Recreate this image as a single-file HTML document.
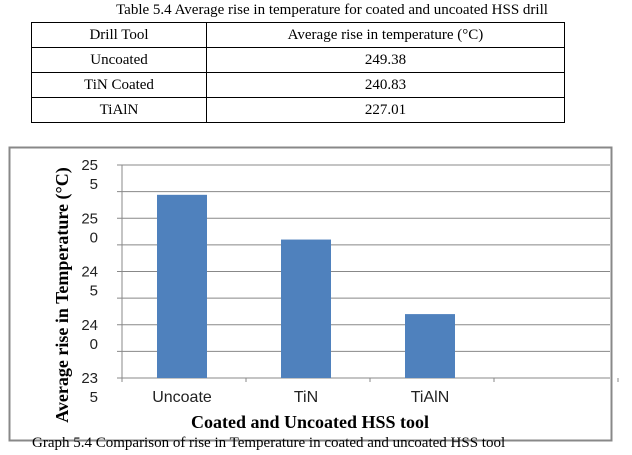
<!DOCTYPE html>
<html><head><meta charset="utf-8"><style>
body{margin:0;width:632px;height:455px;background:#fff;overflow:hidden;position:relative;font-family:"Liberation Serif",serif}
.t{position:absolute;white-space:nowrap}
table{position:absolute;left:31px;top:22px;width:534px;border-collapse:collapse;font-size:15px}
td{border:1px solid #000;text-align:center;height:24px;padding:0}
</style></head><body>
<div class="t" style="left:0;width:664px;text-align:center;top:2px;font-size:15px">Table 5.4 Average rise in temperature for coated and uncoated HSS drill</div>
<table>
<tr><td style="width:174px">Drill Tool</td><td>Average rise in temperature (°C)</td></tr>
<tr><td>Uncoated</td><td>249.38</td></tr>
<tr><td>TiN Coated</td><td>240.83</td></tr>
<tr><td>TiAlN</td><td>227.01</td></tr>
</table>
<svg width="632" height="455" style="position:absolute;left:0;top:0">
<rect x="9.5" y="147.5" width="602" height="293" fill="none" stroke="#888" stroke-width="2"/>
<g id="g"></g>
<text x="310" y="428" text-anchor="middle" font-family="Liberation Serif" font-weight="bold" font-size="18">Coated and Uncoated HSS tool</text>
<text transform="translate(68,295) rotate(-90)" text-anchor="middle" font-family="Liberation Serif" font-weight="bold" font-size="18">Average rise in Temperature (°C)</text>
</svg>
<div class="t" style="left:32px;top:435px;font-size:15px">Graph 5.4 Comparison of rise in Temperature in coated and uncoated HSS tool</div>
<script>
const categories=["Uncoate","TiN","TiAlN",""];
const values=[252.2,248.0,241.0,null];
const tickValues=[235,237.5,240,242.5,245,247.5,250,252.5,255];
const tickLabels=["23\n5","","24\n0","","24\n5","","25\n0","","25\n5"];
const NS="http://www.w3.org/2000/svg",g=document.getElementById('g');
const x0=122,cw=124,yMin=235,yMax=255,yTop=165,yBot=378;
const y=v=>yBot-(v-yMin)/(yMax-yMin)*(yBot-yTop);
function mk(t,a){const e=document.createElementNS(NS,t);for(const k in a)e.setAttribute(k,a[k]);g.appendChild(e);return e;}
tickValues.forEach((v,i)=>{
 const l=mk('line',{x1:x0-5,x2:610,y1:y(v),y2:y(v),stroke:'#888','stroke-width':1});
 
 
 if(tickLabels[i]){const p=tickLabels[i].split("\n");
  p.forEach((s,j)=>{const t=mk('text',{x:98,y:y(v)+5+j*19,'text-anchor':'end','font-family':'Liberation Sans','font-size':15,fill:'#222'});
  t.textContent=s;
  
  });}
});
const ax=mk('line',{x1:x0,x2:x0,y1:yTop,y2:yBot+4,stroke:'#888'});


categories.forEach((c,i)=>{
 const tk=mk('line',{x1:x0+(i+1)*cw,x2:x0+(i+1)*cw,y1:yBot,y2:yBot+4,stroke:'#888'});
 
 
 if(values[i]!=null){
  const r=mk('rect',{x:x0+i*cw+35,width:50,y:y(values[i]),height:yBot-y(values[i]),fill:'#4f81bd'});
  
  }
 if(c){const t=mk('text',{x:x0+i*cw+60,y:402,'text-anchor':'middle','font-family':'Liberation Sans','font-size':16,fill:'#222'});
  t.textContent=c;
  
  }
});
</script>
</body></html>
